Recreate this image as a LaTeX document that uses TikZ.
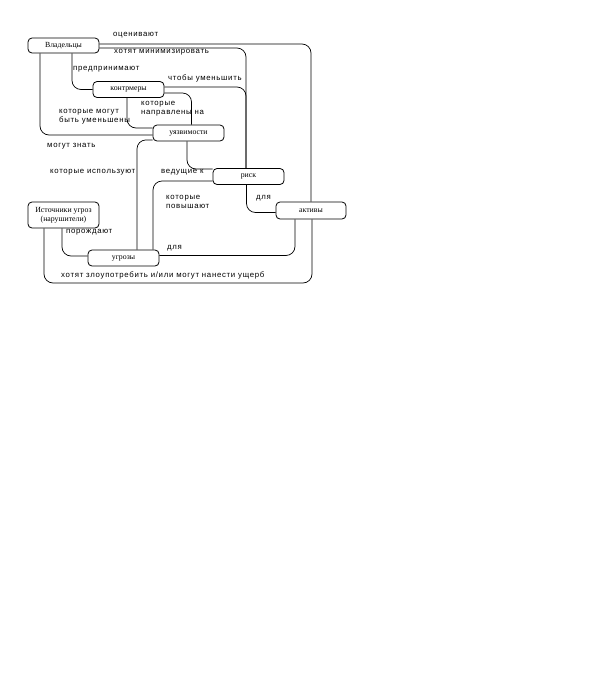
\documentclass[tikz,border=0pt]{standalone}
\usepackage{fontspec}
\setmainfont{Liberation Serif}
\newfontfamily\labfont[LetterSpace=9]{Liberation Sans}
\begin{document}
\begin{tikzpicture}[x=1pt,y=-1pt,
  box/.style={draw, rounded corners=4pt, line width=0.8pt, minimum width=71pt, minimum height=16pt, inner sep=1pt, font=\fontsize{7.8}{9}\selectfont, align=center},
  lab/.style={anchor=west, inner sep=0pt, font=\labfont\fontsize{7.8}{9}\selectfont, align=left},
  con/.style={line width=0.7pt, rounded corners=9pt}]
\useasboundingbox (0,0) rectangle (592,694);
% nodes
\node[box, minimum height=15pt] (vl) at (63.5,45.5) {Владельцы};
\node[box] (km) at (128.5,89.5) {контрмеры};
\node[box] (uz) at (188.5,133) {уязвимости};
\node[box] (rk) at (248.5,176.5) {риск};
\node[box, minimum width=70pt, minimum height=17pt] (ak) at (311,210.5) {активы};
\node[box, minimum height=26pt] (ist) at (63.5,215) {Источники угроз\\(нарушители)};
\node[box] (ug) at (123.5,258) {угрозы};
\coordinate (bot) at (312,283);
% connectors
\draw[con] ([yshift=1.5pt]vl.east) -| (ak.north);
\draw[con] ([yshift=-2.5pt]vl.east) -| ([xshift=-2.5pt]rk.north);
\draw[con] ([xshift=8.5pt]vl.south) |- (km.west);
\draw[con] ([xshift=-23.5pt]vl.south) |- ([yshift=-2pt]uz.west);
\draw[con] ([yshift=2.5pt]km.east) -| ([xshift=-2.5pt]rk.north);
\draw[con] ([yshift=-3.5pt]km.east) -| ([xshift=3pt]uz.north);
\draw[con] ([xshift=-1.5pt]km.south) |- ([yshift=5pt]uz.west);
\draw[con] ([xshift=-1.5pt]uz.south) |- ([yshift=7.5pt]rk.west);
\draw[con] ([xshift=29.5pt]ug.north) |- ([yshift=-4.5pt]rk.west);
\draw[con] ([xshift=13.5pt]ug.north) |- ([yshift=1.5pt]uz.south west);
\draw[con] ([xshift=-2pt]rk.south) |- ([yshift=-2pt]ak.west);
\draw[con] ([yshift=2.5pt]ug.east) -| ([xshift=-16pt]ak.south);
\draw[con] ([xshift=-19.5pt]ist.south) |- (bot) -- ([xshift=1pt]ak.south);
\draw[con] ([xshift=-1.5pt]ist.south) |- ([yshift=2pt]ug.west);
% labels
\node[lab] (l1) at (113,35) {оценивают};
\node[lab] (l2) at (114,52) {хотят минимизировать};
\node[lab] (l3) at (73,69) {предпринимают};
\node[lab] (l4) at (168,78) {чтобы уменьшить};
\node[lab] (l5) at (141,108.5) {которые\\направлены на};
\node[lab] (l6) at (59,116.5) {которые могут\\быть уменьшены};
\node[lab] (l7) at (47,146) {могут знать};
\node[lab] (l8) at (50,172) {которые используют};
\node[lab] (l9) at (161,172) {ведущие к};
\node[lab] (l10) at (166,202) {которые\\повышают};
\node[lab] (l11) at (256,198) {для};
\node[lab] (l12) at (167,248) {для};
\node[lab] (l13) at (66,232) {порождают};
\node[lab] (l14) at (61,275) {хотят злоупотребить и/или могут нанести ущерб};
\end{tikzpicture}
\end{document}
